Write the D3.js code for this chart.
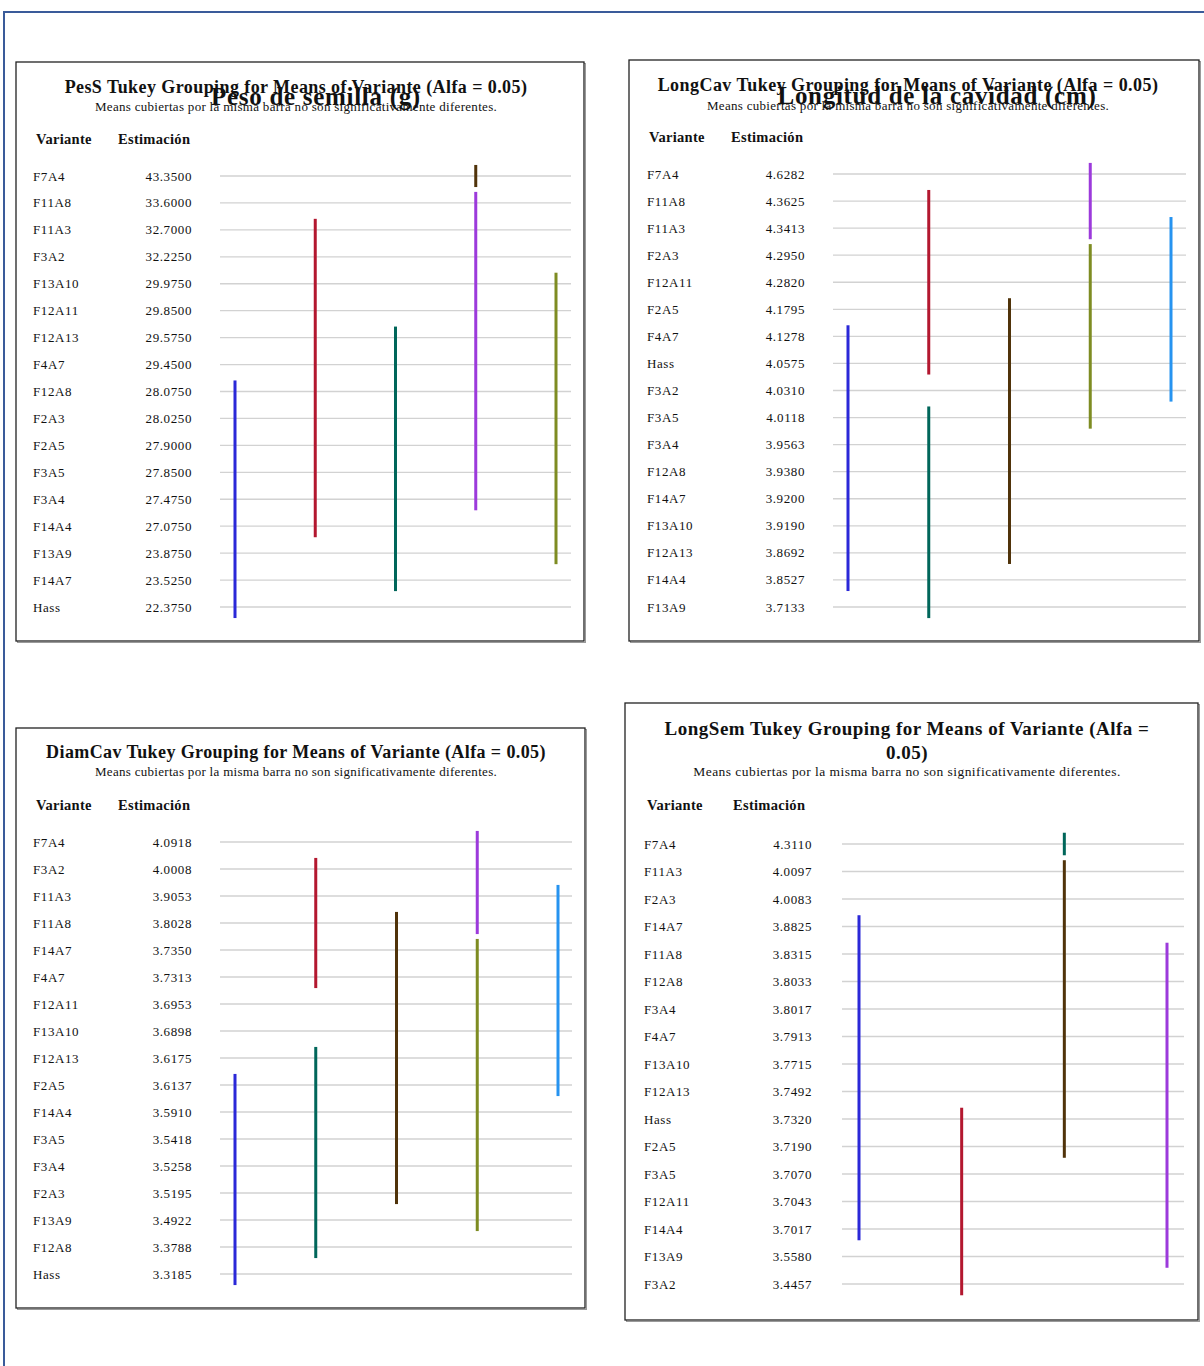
<!DOCTYPE html>
<html><head><meta charset="utf-8">
<script src="https://cdn.jsdelivr.net/npm/d3@7"></script>
<style>body{margin:0;background:#fff;} svg{display:block;} text{font-family:"Liberation Serif","Times New Roman",serif;fill:#111;}</style>
</head><body>
<svg id="chart" width="1204" height="1366"></svg>
<script>
// ---------- DATA ----------
const pesCategories = ["F7A4","F11A8","F11A3","F3A2","F13A10","F12A11","F12A13","F4A7","F12A8","F2A3","F2A5","F3A5","F3A4","F14A4","F13A9","F14A7","Hass"];
const pesValues = ["43.3500","33.6000","32.7000","32.2250","29.9750","29.8500","29.5750","29.4500","28.0750","28.0250","27.9000","27.8500","27.4750","27.0750","23.8750","23.5250","22.3750"];
const pesGroups = [
  {col:0, from:"F12A8", to:"Hass", color:"blue"},
  {col:1, from:"F11A3", to:"F14A4", color:"red"},
  {col:2, from:"F12A13", to:"F14A7", color:"teal"},
  {col:3, from:"F7A4", to:"F7A4", color:"brown"},
  {col:3, from:"F11A8", to:"F3A4", color:"purple"},
  {col:4, from:"F13A10", to:"F13A9", color:"olive"}
];

const cavCategories = ["F7A4","F11A8","F11A3","F2A3","F12A11","F2A5","F4A7","Hass","F3A2","F3A5","F3A4","F12A8","F14A7","F13A10","F12A13","F14A4","F13A9"];
const cavValues = ["4.6282","4.3625","4.3413","4.2950","4.2820","4.1795","4.1278","4.0575","4.0310","4.0118","3.9563","3.9380","3.9200","3.9190","3.8692","3.8527","3.7133"];
const cavGroups = [
  {col:0, from:"F4A7", to:"F14A4", color:"blue"},
  {col:1, from:"F11A8", to:"Hass", color:"red"},
  {col:1, from:"F3A5", to:"F13A9", color:"teal"},
  {col:2, from:"F2A5", to:"F12A13", color:"brown"},
  {col:3, from:"F7A4", to:"F11A3", color:"purple"},
  {col:3, from:"F2A3", to:"F3A5", color:"olive"},
  {col:4, from:"F11A3", to:"F3A2", color:"sky"}
];

const diamCategories = ["F7A4","F3A2","F11A3","F11A8","F14A7","F4A7","F12A11","F13A10","F12A13","F2A5","F14A4","F3A5","F3A4","F2A3","F13A9","F12A8","Hass"];
const diamValues = ["4.0918","4.0008","3.9053","3.8028","3.7350","3.7313","3.6953","3.6898","3.6175","3.6137","3.5910","3.5418","3.5258","3.5195","3.4922","3.3788","3.3185"];
const diamGroups = [
  {col:0, from:"F2A5", to:"Hass", color:"blue"},
  {col:1, from:"F3A2", to:"F4A7", color:"red"},
  {col:1, from:"F12A13", to:"F12A8", color:"teal"},
  {col:2, from:"F11A8", to:"F2A3", color:"brown"},
  {col:3, from:"F7A4", to:"F11A8", color:"purple"},
  {col:3, from:"F14A7", to:"F13A9", color:"olive"},
  {col:4, from:"F11A3", to:"F2A5", color:"sky"}
];

const semCategories = ["F7A4","F11A3","F2A3","F14A7","F11A8","F12A8","F3A4","F4A7","F13A10","F12A13","Hass","F2A5","F3A5","F12A11","F14A4","F13A9","F3A2"];
const semValues = ["4.3110","4.0097","4.0083","3.8825","3.8315","3.8033","3.8017","3.7913","3.7715","3.7492","3.7320","3.7190","3.7070","3.7043","3.7017","3.5580","3.4457"];
const semGroups = [
  {col:0, from:"F14A7", to:"F14A4", color:"blue"},
  {col:1, from:"Hass", to:"F3A2", color:"red"},
  {col:2, from:"F7A4", to:"F7A4", color:"teal"},
  {col:2, from:"F11A3", to:"F2A5", color:"brown"},
  {col:3, from:"F11A8", to:"F13A9", color:"purple"}
];

// ---------- STYLE ----------
const palette = {blue:"#2B28D8", red:"#B3172F", teal:"#00665A", brown:"#50330A", purple:"#9C3ADB", olive:"#7E8C22", sky:"#2693F0"};

const panels = [
  {box:[16,62,568,579], title:["PesS Tukey Grouping for Means of Variante (Alfa = 0.05)"], titleSize:18, titleLS:0.42, titleX:296, titleY:[93], subY:111, subSize:13, subLS:0.3,
   overlay:"Peso de semilla (g)", overlayX:316, overlayY:105,
   headY:144, varX:36, estX:118, labelX:33, valX:192, rowTop:176, rowBot:607, gridX:[220,571], colX:[235,556], ncol:5,
   cats:pesCategories, vals:pesValues, groups:pesGroups},
  {box:[629,60,570,581], title:["LongCav Tukey Grouping for Means of Variante (Alfa = 0.05)"], titleSize:18, titleLS:0.45, titleX:908, titleY:[91], subY:110, subSize:13, subLS:0.3,
   overlay:"Longitud de la cavidad (cm)", overlayX:937, overlayY:104,
   headY:142, varX:649, estX:731, labelX:647, valX:805, rowTop:174, rowBot:607, gridX:[833,1186], colX:[848,1171], ncol:5,
   cats:cavCategories, vals:cavValues, groups:cavGroups},
  {box:[16,728,569,580], title:["DiamCav Tukey Grouping for Means of Variante (Alfa = 0.05)"], titleSize:18, titleLS:0.4, titleX:296, titleY:[758], subY:776, subSize:13, subLS:0.3,
   headY:810, varX:36, estX:118, labelX:33, valX:192, rowTop:842, rowBot:1274, gridX:[220,572], colX:[235,558], ncol:5,
   cats:diamCategories, vals:diamValues, groups:diamGroups},
  {box:[625,703,573,617], title:["LongSem Tukey Grouping for Means of Variante (Alfa =","0.05)"], titleSize:19, titleLS:0.5, titleX:907, titleY:[735,759], subY:776, subSize:13.5, subLS:0.45,
   headY:810, varX:647, estX:733, labelX:644, valX:812, rowTop:844, rowBot:1284, gridX:[842,1184], colX:[859,1167], ncol:4,
   cats:semCategories, vals:semValues, groups:semGroups}
];

const svg = d3.select("#chart");

// outer page frame
svg.append("path").attr("d","M1204,12 L4,12 L4,1366")
  .attr("fill","none").attr("stroke","#3A5B9A").attr("stroke-width",2);

panels.forEach(p => {
  const g = svg.append("g");
  const [bx,by,bw,bh] = p.box;
  g.append("rect").attr("x",bx+1.5).attr("y",by+1.5).attr("width",bw).attr("height",bh)
    .attr("fill","none").attr("stroke","#9a9a9a").attr("stroke-width",1);
  g.append("rect").attr("x",bx).attr("y",by).attr("width",bw).attr("height",bh)
    .attr("fill","#fff").attr("stroke","#222").attr("stroke-width",1.3);

  p.title.forEach((t,i) => {
    g.append("text").attr("x",p.titleX).attr("y",p.titleY[i]).attr("text-anchor","middle")
      .attr("font-weight","bold").attr("font-size",p.titleSize).attr("letter-spacing",p.titleLS).text(t);
  });
  g.append("text").attr("x",p.titleX).attr("y",p.subY).attr("text-anchor","middle")
    .attr("font-size",p.subSize).attr("letter-spacing",p.subLS).attr("fill","#222")
    .text("Means cubiertas por la misma barra no son significativamente diferentes.");

  g.append("text").attr("x",p.varX).attr("y",p.headY).attr("font-weight","bold").attr("font-size",14.5).attr("letter-spacing",0.3).text("Variante");
  g.append("text").attr("x",p.estX).attr("y",p.headY).attr("font-weight","bold").attr("font-size",14.5).attr("letter-spacing",0.3).text("Estimación");

  const y = d3.scalePoint().domain(p.cats).range([p.rowTop,p.rowBot]);
  const x = d3.scalePoint().domain(d3.range(p.ncol)).range(p.colX);
  const half = y.step()*0.41;

  // grid lines
  g.selectAll("line.grid").data(p.cats).join("line").attr("class","grid")
    .attr("x1",p.gridX[0]).attr("x2",p.gridX[1])
    .attr("y1",d=>y(d)).attr("y2",d=>y(d))
    .attr("stroke","#d2d2d2").attr("stroke-width",1.3);

  // row labels
  g.selectAll("text.cat").data(p.cats).join("text").attr("class","cat")
    .attr("x",p.labelX).attr("y",d=>y(d)).attr("dy","0.35em")
    .attr("font-size",13).attr("letter-spacing",0.6).text(d=>d);
  g.selectAll("text.val").data(p.vals).join("text").attr("class","val")
    .attr("x",p.valX).attr("y",(d,i)=>y(p.cats[i])).attr("dy","0.35em")
    .attr("text-anchor","end").attr("font-size",13).attr("letter-spacing",0.6).text(d=>d);

  // grouping bars
  g.selectAll("rect.bar").data(p.groups).join("rect").attr("class","bar")
    .attr("x",d=>x(d.col)-1.5).attr("width",3)
    .attr("y",d=>y(d.from)-half)
    .attr("height",d=>y(d.to)-y(d.from)+2*half)
    .attr("fill",d=>palette[d.color]);

  if (p.overlay) {
    g.append("text").attr("x",p.overlayX).attr("y",p.overlayY).attr("text-anchor","middle")
      .attr("font-weight","bold").attr("font-size",25).attr("letter-spacing",0.7).attr("fill","#1a1a1a").text(p.overlay);
  }
});
</script>
</body></html>
